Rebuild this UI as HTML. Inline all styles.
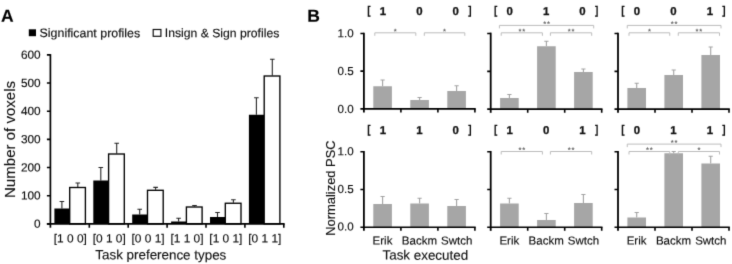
<!DOCTYPE html>
<html lang="en">
<head>
<meta charset="utf-8">
<title>Figure</title>
<style>
html,body{margin:0;padding:0;background:#fff;}
body{width:732px;height:264px;overflow:hidden;}
svg{display:block;font-family:'Liberation Sans', Arial, sans-serif;}
</style>
</head>
<body>
<svg width="732" height="264" viewBox="0 0 732 264">
<defs><filter id="soft" x="0" y="0" width="732" height="264" filterUnits="userSpaceOnUse" color-interpolation-filters="sRGB"><feConvolveMatrix order="3" kernelMatrix="0.0121 0.0858 0.0121 0.0858 0.6084 0.0858 0.0121 0.0858 0.0121" divisor="1" edgeMode="duplicate" preserveAlpha="true"/></filter></defs>
<g filter="url(#soft)">
<rect width="732" height="264" fill="#fff"/>
<path d="M61.90 208.50V201.50M59.60 201.50H64.20" stroke="#262626" stroke-width="1.1" fill="none"/>
<path d="M77.80 187.00V183.00M75.50 183.00H80.10" stroke="#262626" stroke-width="1.1" fill="none"/>
<rect x="54.40" y="208.50" width="15.10" height="15.40" fill="#000"/>
<rect x="69.70" y="187.50" width="15.70" height="36.40" fill="#fff" stroke="#000" stroke-width="1.35"/>
<path d="M100.80 180.50V167.50M98.50 167.50H103.10" stroke="#262626" stroke-width="1.1" fill="none"/>
<path d="M116.70 153.50V143.25M114.40 143.25H119.00" stroke="#262626" stroke-width="1.1" fill="none"/>
<rect x="93.30" y="180.50" width="15.10" height="43.40" fill="#000"/>
<rect x="108.60" y="154.00" width="15.70" height="69.90" fill="#fff" stroke="#000" stroke-width="1.35"/>
<path d="M139.70 214.50V209.25M137.40 209.25H142.00" stroke="#262626" stroke-width="1.1" fill="none"/>
<path d="M155.60 189.80V187.40M153.30 187.40H157.90" stroke="#262626" stroke-width="1.1" fill="none"/>
<rect x="132.20" y="214.50" width="15.10" height="9.40" fill="#000"/>
<rect x="147.50" y="190.30" width="15.70" height="33.60" fill="#fff" stroke="#000" stroke-width="1.35"/>
<path d="M178.60 221.50V218.25M176.30 218.25H180.90" stroke="#262626" stroke-width="1.1" fill="none"/>
<path d="M194.50 206.50V205.50M192.20 205.50H196.80" stroke="#262626" stroke-width="1.1" fill="none"/>
<rect x="171.10" y="221.50" width="15.10" height="2.40" fill="#000"/>
<rect x="186.40" y="207.00" width="15.70" height="16.90" fill="#fff" stroke="#000" stroke-width="1.35"/>
<path d="M217.50 217.00V212.50M215.20 212.50H219.80" stroke="#262626" stroke-width="1.1" fill="none"/>
<path d="M233.40 202.75V199.75M231.10 199.75H235.70" stroke="#262626" stroke-width="1.1" fill="none"/>
<rect x="210.00" y="217.00" width="15.10" height="6.90" fill="#000"/>
<rect x="225.30" y="203.25" width="15.70" height="20.65" fill="#fff" stroke="#000" stroke-width="1.35"/>
<path d="M256.40 114.75V97.75M254.10 97.75H258.70" stroke="#262626" stroke-width="1.1" fill="none"/>
<path d="M272.30 75.50V59.25M270.00 59.25H274.60" stroke="#262626" stroke-width="1.1" fill="none"/>
<rect x="248.90" y="114.75" width="15.10" height="109.15" fill="#000"/>
<rect x="264.20" y="76.00" width="15.70" height="147.90" fill="#fff" stroke="#000" stroke-width="1.35"/>
<path d="M50.40 54.10V227.70" stroke="#000" stroke-width="1.7" fill="none"/>
<path d="M46.90 223.90H284.65" stroke="#000" stroke-width="1.6" fill="none"/>
<path d="M46.90 223.90H50.40M46.90 195.73H50.40M46.90 167.57H50.40M46.90 139.40H50.40M46.90 111.23H50.40M46.90 83.07H50.40M46.90 54.90H50.40M89.30 223.90V227.70M128.20 223.90V227.70M167.10 223.90V227.70M206.00 223.90V227.70M244.90 223.90V227.70M283.80 223.90V227.70" stroke="#000" stroke-width="1.6" fill="none"/>
<text transform="translate(40.60 227.80) rotate(0.06)" font-size="11.8" text-anchor="end" fill="#0d0d0d" stroke="#0d0d0d" stroke-width="0.14">0</text>
<text transform="translate(40.60 199.63) rotate(0.06)" font-size="11.8" text-anchor="end" fill="#0d0d0d" stroke="#0d0d0d" stroke-width="0.14">100</text>
<text transform="translate(40.60 171.47) rotate(0.06)" font-size="11.8" text-anchor="end" fill="#0d0d0d" stroke="#0d0d0d" stroke-width="0.14">200</text>
<text transform="translate(40.60 143.30) rotate(0.06)" font-size="11.8" text-anchor="end" fill="#0d0d0d" stroke="#0d0d0d" stroke-width="0.14">300</text>
<text transform="translate(40.60 115.13) rotate(0.06)" font-size="11.8" text-anchor="end" fill="#0d0d0d" stroke="#0d0d0d" stroke-width="0.14">400</text>
<text transform="translate(40.60 86.97) rotate(0.06)" font-size="11.8" text-anchor="end" fill="#0d0d0d" stroke="#0d0d0d" stroke-width="0.14">500</text>
<text transform="translate(40.60 58.80) rotate(0.06)" font-size="11.8" text-anchor="end" fill="#0d0d0d" stroke="#0d0d0d" stroke-width="0.14">600</text>
<text transform="translate(70.30 242.60) rotate(0.06)" font-size="11.9" text-anchor="middle" fill="#0d0d0d" stroke="#0d0d0d" stroke-width="0.14">[1 0 0]</text>
<text transform="translate(109.20 242.60) rotate(0.06)" font-size="11.9" text-anchor="middle" fill="#0d0d0d" stroke="#0d0d0d" stroke-width="0.14">[0 1 0]</text>
<text transform="translate(148.10 242.60) rotate(0.06)" font-size="11.9" text-anchor="middle" fill="#0d0d0d" stroke="#0d0d0d" stroke-width="0.14">[0 0 1]</text>
<text transform="translate(187.00 242.60) rotate(0.06)" font-size="11.9" text-anchor="middle" fill="#0d0d0d" stroke="#0d0d0d" stroke-width="0.14">[1 1 0]</text>
<text transform="translate(225.90 242.60) rotate(0.06)" font-size="11.9" text-anchor="middle" fill="#0d0d0d" stroke="#0d0d0d" stroke-width="0.14">[1 0 1]</text>
<text transform="translate(264.80 242.60) rotate(0.06)" font-size="11.9" text-anchor="middle" fill="#0d0d0d" stroke="#0d0d0d" stroke-width="0.14">[0 1 1]</text>
<text transform="translate(95.30 259.30) rotate(0.06)" font-size="13.4" fill="#111" stroke="#111" stroke-width="0.14">Task preference types</text>
<text transform="translate(14.80 198.00) rotate(-90)" font-size="15.05" fill="#111" stroke="#111" stroke-width="0.14">Number of voxels</text>
<rect x="28.8" y="29.3" width="7.2" height="6.9" fill="#000"/>
<text transform="translate(39.60 37.10) rotate(0.06)" font-size="12.2" fill="#0d0d0d" textLength="100.6" lengthAdjust="spacingAndGlyphs" stroke="#0d0d0d" stroke-width="0.14">Significant profiles</text>
<rect x="153.2" y="29.5" width="7.7" height="6.8" fill="#fff" stroke="#111" stroke-width="1.2"/>
<text transform="translate(164.80 37.10) rotate(0.06)" font-size="12.2" fill="#0d0d0d" textLength="114.5" lengthAdjust="spacingAndGlyphs" stroke="#0d0d0d" stroke-width="0.14">Insign &amp; Sign profiles</text>
<text transform="translate(0.90 21.80) rotate(0.06)" font-size="17.5" font-weight="bold" fill="#000" stroke="#000" stroke-width="0.14">A</text>
<path d="M382.60 86.25V80.00M380.50 80.00H384.70" stroke="#a3a3a3" stroke-width="1.1" fill="none"/>
<rect x="373.30" y="86.25" width="18.6" height="22.60" fill="#a6a6a6"/>
<path d="M419.60 100.00V97.50M417.50 97.50H421.70" stroke="#a3a3a3" stroke-width="1.1" fill="none"/>
<rect x="410.30" y="100.00" width="18.6" height="8.85" fill="#a6a6a6"/>
<path d="M456.60 91.00V85.75M454.50 85.75H458.70" stroke="#a3a3a3" stroke-width="1.1" fill="none"/>
<rect x="447.30" y="91.00" width="18.6" height="17.85" fill="#a6a6a6"/>
<path d="M363.90 32.65V112.45" stroke="#000" stroke-width="1.8" fill="none"/>
<path d="M360.40 108.85H475.70" stroke="#000" stroke-width="1.7" fill="none"/>
<path d="M360.40 33.45H363.90M360.40 71.15H363.90M400.90 108.85V112.45M437.90 108.85V112.45M474.90 108.85V112.45" stroke="#000" stroke-width="1.6" fill="none"/>
<text transform="translate(382.90 14.90) rotate(0.06)" font-size="11.4" text-anchor="middle" font-weight="bold" fill="#111" stroke="#111" stroke-width="0.3">1</text>
<text transform="translate(419.30 14.90) rotate(0.06)" font-size="11.4" text-anchor="middle" font-weight="bold" fill="#111" stroke="#111" stroke-width="0.3">0</text>
<text transform="translate(455.70 14.90) rotate(0.06)" font-size="11.4" text-anchor="middle" font-weight="bold" fill="#111" stroke="#111" stroke-width="0.3">0</text>
<text transform="translate(368.90 14.30) rotate(0.06) scale(0.85 1)" font-size="11.7" text-anchor="middle" font-weight="bold" fill="#111" stroke="#111" stroke-width="0.14">[</text>
<text transform="translate(469.90 14.30) rotate(0.06) scale(0.85 1)" font-size="11.7" text-anchor="middle" font-weight="bold" fill="#111" stroke="#111" stroke-width="0.14">]</text>
<path d="M374.80 35.80V32.80H415.80V35.80" stroke="#bcbcbc" stroke-width="1" fill="none"/>
<text transform="translate(395.30 33.90) rotate(0.06)" font-size="7.6" text-anchor="middle" font-weight="bold" fill="#666666">*</text>
<path d="M424.30 35.80V32.80H464.80V35.80" stroke="#bcbcbc" stroke-width="1" fill="none"/>
<text transform="translate(444.55 33.90) rotate(0.06)" font-size="7.6" text-anchor="middle" font-weight="bold" fill="#666666">*</text>
<path d="M509.40 98.00V94.50M507.30 94.50H511.50" stroke="#a3a3a3" stroke-width="1.1" fill="none"/>
<rect x="500.10" y="98.00" width="18.6" height="11.20" fill="#a6a6a6"/>
<path d="M546.40 46.25V41.25M544.30 41.25H548.50" stroke="#a3a3a3" stroke-width="1.1" fill="none"/>
<rect x="537.10" y="46.25" width="18.6" height="62.95" fill="#a6a6a6"/>
<path d="M583.40 72.00V69.00M581.30 69.00H585.50" stroke="#a3a3a3" stroke-width="1.1" fill="none"/>
<rect x="574.10" y="72.00" width="18.6" height="37.20" fill="#a6a6a6"/>
<path d="M490.70 32.65V112.80" stroke="#000" stroke-width="1.8" fill="none"/>
<path d="M487.20 109.20H602.50" stroke="#000" stroke-width="1.7" fill="none"/>
<path d="M487.20 33.45H490.70M487.20 71.33H490.70M527.70 109.20V112.80M564.70 109.20V112.80M601.70 109.20V112.80" stroke="#000" stroke-width="1.6" fill="none"/>
<text transform="translate(509.70 14.90) rotate(0.06)" font-size="11.4" text-anchor="middle" font-weight="bold" fill="#111" stroke="#111" stroke-width="0.3">0</text>
<text transform="translate(546.10 14.90) rotate(0.06)" font-size="11.4" text-anchor="middle" font-weight="bold" fill="#111" stroke="#111" stroke-width="0.3">1</text>
<text transform="translate(582.50 14.90) rotate(0.06)" font-size="11.4" text-anchor="middle" font-weight="bold" fill="#111" stroke="#111" stroke-width="0.3">0</text>
<text transform="translate(495.70 14.30) rotate(0.06) scale(0.85 1)" font-size="11.7" text-anchor="middle" font-weight="bold" fill="#111" stroke="#111" stroke-width="0.14">[</text>
<text transform="translate(596.70 14.30) rotate(0.06) scale(0.85 1)" font-size="11.7" text-anchor="middle" font-weight="bold" fill="#111" stroke="#111" stroke-width="0.14">]</text>
<path d="M499.40 28.40V25.40H593.70V28.40" stroke="#bcbcbc" stroke-width="1" fill="none"/>
<text transform="translate(544.65 26.50) rotate(0.06)" font-size="7.6" text-anchor="middle" font-weight="bold" fill="#666666">*</text>
<text transform="translate(548.45 26.50) rotate(0.06)" font-size="7.6" text-anchor="middle" font-weight="bold" fill="#666666">*</text>
<path d="M501.20 35.80V32.80H542.40V35.80" stroke="#bcbcbc" stroke-width="1" fill="none"/>
<text transform="translate(519.90 33.90) rotate(0.06)" font-size="7.6" text-anchor="middle" font-weight="bold" fill="#666666">*</text>
<text transform="translate(523.70 33.90) rotate(0.06)" font-size="7.6" text-anchor="middle" font-weight="bold" fill="#666666">*</text>
<path d="M550.40 35.80V32.80H591.70V35.80" stroke="#bcbcbc" stroke-width="1" fill="none"/>
<text transform="translate(569.15 33.90) rotate(0.06)" font-size="7.6" text-anchor="middle" font-weight="bold" fill="#666666">*</text>
<text transform="translate(572.95 33.90) rotate(0.06)" font-size="7.6" text-anchor="middle" font-weight="bold" fill="#666666">*</text>
<path d="M636.70 88.00V83.25M634.60 83.25H638.80" stroke="#a3a3a3" stroke-width="1.1" fill="none"/>
<rect x="627.40" y="88.00" width="18.6" height="21.20" fill="#a6a6a6"/>
<path d="M673.70 75.00V70.00M671.60 70.00H675.80" stroke="#a3a3a3" stroke-width="1.1" fill="none"/>
<rect x="664.40" y="75.00" width="18.6" height="34.20" fill="#a6a6a6"/>
<path d="M710.70 55.00V47.00M708.60 47.00H712.80" stroke="#a3a3a3" stroke-width="1.1" fill="none"/>
<rect x="701.40" y="55.00" width="18.6" height="54.20" fill="#a6a6a6"/>
<path d="M618.00 32.65V112.80" stroke="#000" stroke-width="1.8" fill="none"/>
<path d="M614.50 109.20H729.80" stroke="#000" stroke-width="1.7" fill="none"/>
<path d="M614.50 33.45H618.00M614.50 71.33H618.00M655.00 109.20V112.80M692.00 109.20V112.80M729.00 109.20V112.80" stroke="#000" stroke-width="1.6" fill="none"/>
<text transform="translate(637.00 14.90) rotate(0.06)" font-size="11.4" text-anchor="middle" font-weight="bold" fill="#111" stroke="#111" stroke-width="0.3">0</text>
<text transform="translate(673.40 14.90) rotate(0.06)" font-size="11.4" text-anchor="middle" font-weight="bold" fill="#111" stroke="#111" stroke-width="0.3">0</text>
<text transform="translate(709.80 14.90) rotate(0.06)" font-size="11.4" text-anchor="middle" font-weight="bold" fill="#111" stroke="#111" stroke-width="0.3">1</text>
<text transform="translate(623.00 14.30) rotate(0.06) scale(0.85 1)" font-size="11.7" text-anchor="middle" font-weight="bold" fill="#111" stroke="#111" stroke-width="0.14">[</text>
<text transform="translate(724.00 14.30) rotate(0.06) scale(0.85 1)" font-size="11.7" text-anchor="middle" font-weight="bold" fill="#111" stroke="#111" stroke-width="0.14">]</text>
<path d="M627.25 28.40V25.40H721.00V28.40" stroke="#bcbcbc" stroke-width="1" fill="none"/>
<text transform="translate(672.23 26.50) rotate(0.06)" font-size="7.6" text-anchor="middle" font-weight="bold" fill="#666666">*</text>
<text transform="translate(676.02 26.50) rotate(0.06)" font-size="7.6" text-anchor="middle" font-weight="bold" fill="#666666">*</text>
<path d="M629.00 35.80V32.80H669.75V35.80" stroke="#bcbcbc" stroke-width="1" fill="none"/>
<text transform="translate(649.38 33.90) rotate(0.06)" font-size="7.6" text-anchor="middle" font-weight="bold" fill="#666666">*</text>
<path d="M678.25 35.80V32.80H719.50V35.80" stroke="#bcbcbc" stroke-width="1" fill="none"/>
<text transform="translate(696.98 33.90) rotate(0.06)" font-size="7.6" text-anchor="middle" font-weight="bold" fill="#666666">*</text>
<text transform="translate(700.77 33.90) rotate(0.06)" font-size="7.6" text-anchor="middle" font-weight="bold" fill="#666666">*</text>
<text transform="translate(353.70 37.20) rotate(0.06)" font-size="11.6" text-anchor="end" fill="#0d0d0d" stroke="#0d0d0d" stroke-width="0.14">1.0</text>
<text transform="translate(353.70 75.00) rotate(0.06)" font-size="11.6" text-anchor="end" fill="#0d0d0d" stroke="#0d0d0d" stroke-width="0.14">0.5</text>
<text transform="translate(353.70 113.00) rotate(0.06)" font-size="11.6" text-anchor="end" fill="#0d0d0d" stroke="#0d0d0d" stroke-width="0.14">0.0</text>
<path d="M382.60 204.00V196.50M380.50 196.50H384.70" stroke="#a3a3a3" stroke-width="1.1" fill="none"/>
<rect x="373.30" y="204.00" width="18.6" height="23.25" fill="#a6a6a6"/>
<path d="M419.60 203.50V198.25M417.50 198.25H421.70" stroke="#a3a3a3" stroke-width="1.1" fill="none"/>
<rect x="410.30" y="203.50" width="18.6" height="23.75" fill="#a6a6a6"/>
<path d="M456.60 206.00V199.50M454.50 199.50H458.70" stroke="#a3a3a3" stroke-width="1.1" fill="none"/>
<rect x="447.30" y="206.00" width="18.6" height="21.25" fill="#a6a6a6"/>
<path d="M363.90 150.95V230.85" stroke="#000" stroke-width="1.8" fill="none"/>
<path d="M360.40 227.25H475.70" stroke="#000" stroke-width="1.7" fill="none"/>
<path d="M360.40 151.75H363.90M360.40 189.50H363.90M400.90 227.25V230.85M437.90 227.25V230.85M474.90 227.25V230.85" stroke="#000" stroke-width="1.6" fill="none"/>
<text transform="translate(382.90 134.00) rotate(0.06)" font-size="11.4" text-anchor="middle" font-weight="bold" fill="#111" stroke="#111" stroke-width="0.3">1</text>
<text transform="translate(419.30 134.00) rotate(0.06)" font-size="11.4" text-anchor="middle" font-weight="bold" fill="#111" stroke="#111" stroke-width="0.3">1</text>
<text transform="translate(455.70 134.00) rotate(0.06)" font-size="11.4" text-anchor="middle" font-weight="bold" fill="#111" stroke="#111" stroke-width="0.3">0</text>
<text transform="translate(368.90 133.20) rotate(0.06) scale(0.85 1)" font-size="11.7" text-anchor="middle" font-weight="bold" fill="#111" stroke="#111" stroke-width="0.14">[</text>
<text transform="translate(469.90 133.20) rotate(0.06) scale(0.85 1)" font-size="11.7" text-anchor="middle" font-weight="bold" fill="#111" stroke="#111" stroke-width="0.14">]</text>
<path d="M509.40 203.50V198.25M507.30 198.25H511.50" stroke="#a3a3a3" stroke-width="1.1" fill="none"/>
<rect x="500.10" y="203.50" width="18.6" height="23.75" fill="#a6a6a6"/>
<path d="M546.40 220.00V213.50M544.30 213.50H548.50" stroke="#a3a3a3" stroke-width="1.1" fill="none"/>
<rect x="537.10" y="220.00" width="18.6" height="7.25" fill="#a6a6a6"/>
<path d="M583.40 203.00V194.50M581.30 194.50H585.50" stroke="#a3a3a3" stroke-width="1.1" fill="none"/>
<rect x="574.10" y="203.00" width="18.6" height="24.25" fill="#a6a6a6"/>
<path d="M490.70 150.95V230.85" stroke="#000" stroke-width="1.8" fill="none"/>
<path d="M487.20 227.25H602.50" stroke="#000" stroke-width="1.7" fill="none"/>
<path d="M487.20 151.75H490.70M487.20 189.50H490.70M527.70 227.25V230.85M564.70 227.25V230.85M601.70 227.25V230.85" stroke="#000" stroke-width="1.6" fill="none"/>
<text transform="translate(509.70 134.00) rotate(0.06)" font-size="11.4" text-anchor="middle" font-weight="bold" fill="#111" stroke="#111" stroke-width="0.3">1</text>
<text transform="translate(546.10 134.00) rotate(0.06)" font-size="11.4" text-anchor="middle" font-weight="bold" fill="#111" stroke="#111" stroke-width="0.3">0</text>
<text transform="translate(582.50 134.00) rotate(0.06)" font-size="11.4" text-anchor="middle" font-weight="bold" fill="#111" stroke="#111" stroke-width="0.3">1</text>
<text transform="translate(495.70 133.20) rotate(0.06) scale(0.85 1)" font-size="11.7" text-anchor="middle" font-weight="bold" fill="#111" stroke="#111" stroke-width="0.14">[</text>
<text transform="translate(596.70 133.20) rotate(0.06) scale(0.85 1)" font-size="11.7" text-anchor="middle" font-weight="bold" fill="#111" stroke="#111" stroke-width="0.14">]</text>
<path d="M501.20 154.50V151.50H542.40V154.50" stroke="#bcbcbc" stroke-width="1" fill="none"/>
<text transform="translate(519.90 152.60) rotate(0.06)" font-size="7.6" text-anchor="middle" font-weight="bold" fill="#666666">*</text>
<text transform="translate(523.70 152.60) rotate(0.06)" font-size="7.6" text-anchor="middle" font-weight="bold" fill="#666666">*</text>
<path d="M550.40 154.50V151.50H591.70V154.50" stroke="#bcbcbc" stroke-width="1" fill="none"/>
<text transform="translate(569.15 152.60) rotate(0.06)" font-size="7.6" text-anchor="middle" font-weight="bold" fill="#666666">*</text>
<text transform="translate(572.95 152.60) rotate(0.06)" font-size="7.6" text-anchor="middle" font-weight="bold" fill="#666666">*</text>
<path d="M636.70 217.50V212.50M634.60 212.50H638.80" stroke="#a3a3a3" stroke-width="1.1" fill="none"/>
<rect x="627.40" y="217.50" width="18.6" height="9.75" fill="#a6a6a6"/>
<path d="M673.70 153.25V151.50M671.60 151.50H675.80" stroke="#a3a3a3" stroke-width="1.1" fill="none"/>
<rect x="664.40" y="153.25" width="18.6" height="74.00" fill="#a6a6a6"/>
<path d="M710.70 163.50V156.25M708.60 156.25H712.80" stroke="#a3a3a3" stroke-width="1.1" fill="none"/>
<rect x="701.40" y="163.50" width="18.6" height="63.75" fill="#a6a6a6"/>
<path d="M618.00 150.95V230.85" stroke="#000" stroke-width="1.8" fill="none"/>
<path d="M614.50 227.25H729.80" stroke="#000" stroke-width="1.7" fill="none"/>
<path d="M614.50 151.75H618.00M614.50 189.50H618.00M655.00 227.25V230.85M692.00 227.25V230.85M729.00 227.25V230.85" stroke="#000" stroke-width="1.6" fill="none"/>
<text transform="translate(637.00 134.00) rotate(0.06)" font-size="11.4" text-anchor="middle" font-weight="bold" fill="#111" stroke="#111" stroke-width="0.3">0</text>
<text transform="translate(673.40 134.00) rotate(0.06)" font-size="11.4" text-anchor="middle" font-weight="bold" fill="#111" stroke="#111" stroke-width="0.3">1</text>
<text transform="translate(709.80 134.00) rotate(0.06)" font-size="11.4" text-anchor="middle" font-weight="bold" fill="#111" stroke="#111" stroke-width="0.3">1</text>
<text transform="translate(623.00 133.20) rotate(0.06) scale(0.85 1)" font-size="11.7" text-anchor="middle" font-weight="bold" fill="#111" stroke="#111" stroke-width="0.14">[</text>
<text transform="translate(724.00 133.20) rotate(0.06) scale(0.85 1)" font-size="11.7" text-anchor="middle" font-weight="bold" fill="#111" stroke="#111" stroke-width="0.14">]</text>
<path d="M627.25 147.10V144.10H721.00V147.10" stroke="#bcbcbc" stroke-width="1" fill="none"/>
<text transform="translate(672.23 145.20) rotate(0.06)" font-size="7.6" text-anchor="middle" font-weight="bold" fill="#666666">*</text>
<text transform="translate(676.02 145.20) rotate(0.06)" font-size="7.6" text-anchor="middle" font-weight="bold" fill="#666666">*</text>
<path d="M629.00 154.50V151.50H669.75V154.50" stroke="#bcbcbc" stroke-width="1" fill="none"/>
<text transform="translate(647.48 152.60) rotate(0.06)" font-size="7.6" text-anchor="middle" font-weight="bold" fill="#666666">*</text>
<text transform="translate(651.27 152.60) rotate(0.06)" font-size="7.6" text-anchor="middle" font-weight="bold" fill="#666666">*</text>
<path d="M678.25 154.50V151.50H719.50V154.50" stroke="#bcbcbc" stroke-width="1" fill="none"/>
<text transform="translate(698.88 152.60) rotate(0.06)" font-size="7.6" text-anchor="middle" font-weight="bold" fill="#666666">*</text>
<text transform="translate(353.70 155.30) rotate(0.06)" font-size="11.6" text-anchor="end" fill="#0d0d0d" stroke="#0d0d0d" stroke-width="0.14">1.0</text>
<text transform="translate(353.70 193.00) rotate(0.06)" font-size="11.6" text-anchor="end" fill="#0d0d0d" stroke="#0d0d0d" stroke-width="0.14">0.5</text>
<text transform="translate(353.70 230.60) rotate(0.06)" font-size="11.6" text-anchor="end" fill="#0d0d0d" stroke="#0d0d0d" stroke-width="0.14">0.0</text>
<text transform="translate(382.50 244.50) rotate(0.06)" font-size="11.5" text-anchor="middle" fill="#0d0d0d" stroke="#0d0d0d" stroke-width="0.14">Erik</text>
<text transform="translate(419.40 244.50) rotate(0.06)" font-size="11.5" text-anchor="middle" fill="#0d0d0d" stroke="#0d0d0d" stroke-width="0.14">Backm</text>
<text transform="translate(456.70 244.50) rotate(0.06)" font-size="11.5" text-anchor="middle" fill="#0d0d0d" stroke="#0d0d0d" stroke-width="0.14">Swtch</text>
<text transform="translate(509.30 244.50) rotate(0.06)" font-size="11.5" text-anchor="middle" fill="#0d0d0d" stroke="#0d0d0d" stroke-width="0.14">Erik</text>
<text transform="translate(546.20 244.50) rotate(0.06)" font-size="11.5" text-anchor="middle" fill="#0d0d0d" stroke="#0d0d0d" stroke-width="0.14">Backm</text>
<text transform="translate(583.50 244.50) rotate(0.06)" font-size="11.5" text-anchor="middle" fill="#0d0d0d" stroke="#0d0d0d" stroke-width="0.14">Swtch</text>
<text transform="translate(636.60 244.50) rotate(0.06)" font-size="11.5" text-anchor="middle" fill="#0d0d0d" stroke="#0d0d0d" stroke-width="0.14">Erik</text>
<text transform="translate(673.50 244.50) rotate(0.06)" font-size="11.5" text-anchor="middle" fill="#0d0d0d" stroke="#0d0d0d" stroke-width="0.14">Backm</text>
<text transform="translate(710.80 244.50) rotate(0.06)" font-size="11.5" text-anchor="middle" fill="#0d0d0d" stroke="#0d0d0d" stroke-width="0.14">Swtch</text>
<text transform="translate(382.50 259.60) rotate(0.06)" font-size="13.4" fill="#111" stroke="#111" stroke-width="0.14">Task executed</text>
<text transform="translate(335.20 235.70) rotate(-90)" font-size="12.9" fill="#111" stroke="#111" stroke-width="0.14">Normalized PSC</text>
<text transform="translate(307.30 21.80) rotate(0.06)" font-size="17.5" font-weight="bold" fill="#000" stroke="#000" stroke-width="0.14">B</text>
</g>
</svg>
</body>
</html>
